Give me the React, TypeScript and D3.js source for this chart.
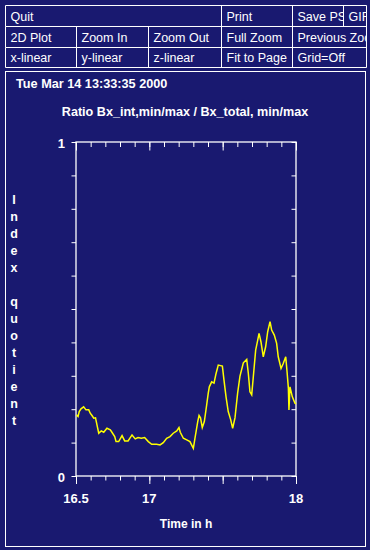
import { useRef, useEffect } from "react"
import * as d3 from "d3"

// ratio series: [time in h, index quotient]
const times = [
  16.503, 16.514, 16.522, 16.534, 16.552, 16.568, 16.587, 16.597, 16.609, 16.621,
  16.633, 16.643, 16.655, 16.672, 16.689, 16.711, 16.734, 16.745, 16.764, 16.773,
  16.791, 16.814, 16.832, 16.855, 16.882, 16.904, 16.923, 16.945, 16.968, 16.993,
  17.016, 17.05, 17.073, 17.095, 17.118, 17.141, 17.163, 17.187, 17.202, 17.211,
  17.232, 17.255, 17.277, 17.3, 17.311, 17.33, 17.339, 17.349, 17.361, 17.375,
  17.391, 17.402, 17.409, 17.425, 17.441, 17.455, 17.47, 17.498, 17.509, 17.523,
  17.538, 17.555, 17.568, 17.584, 17.602, 17.618, 17.641, 17.664, 17.675, 17.686,
  17.698, 17.709, 17.725, 17.739, 17.748, 17.761, 17.777, 17.793, 17.807, 17.823,
  17.834, 17.852, 17.868, 17.879, 17.898, 17.913, 17.93, 17.939, 17.948, 17.952,
  17.959, 17.975, 17.993, 18.0,
]
const ratios = [
  0.183, 0.178, 0.193, 0.201, 0.207, 0.198, 0.198, 0.188, 0.181, 0.173,
  0.174, 0.153, 0.128, 0.135, 0.131, 0.143, 0.138, 0.131, 0.118, 0.103,
  0.103, 0.121, 0.105, 0.105, 0.123, 0.111, 0.115, 0.113, 0.115, 0.103,
  0.095, 0.095, 0.093, 0.1, 0.113, 0.118, 0.128, 0.135, 0.145, 0.131,
  0.113, 0.108, 0.103, 0.083, 0.113, 0.163, 0.181, 0.174, 0.145, 0.163,
  0.213, 0.249, 0.267, 0.282, 0.278, 0.307, 0.332, 0.329, 0.287, 0.237,
  0.193, 0.168, 0.143, 0.174, 0.248, 0.299, 0.339, 0.349, 0.307, 0.252,
  0.243, 0.297, 0.377, 0.407, 0.427, 0.402, 0.357, 0.387, 0.432, 0.462,
  0.437, 0.422, 0.397, 0.357, 0.322, 0.337, 0.357, 0.312, 0.263, 0.198,
  0.267, 0.237, 0.218, 0.216,
]

const xTickLabels = [16.5, 17, 18]
const yTickLabels = [0, 1]

const menuRow1 = ["Quit", "Print", "Save PS", "GIF"]
const menuRow2 = ["2D Plot", "Zoom In", "Zoom Out", "Full Zoom", "Previous Zoom"]
const menuRow3 = ["x-linear", "y-linear", "z-linear", "Fit to Page", "Grid=Off"]

const dateText = "Tue Mar 14 13:33:35 2000"
const titleText = "Ratio Bx_int,min/max / Bx_total, min/max"
const xTitle = "Time in h"
const yTitle = "Index quotient"

const BG = "#191970"
const FONT = "'Liberation Sans', Arial, Helvetica, sans-serif"

const App = () => {
  const svgRef = useRef(null)

  useEffect(() => {
    const svg = d3.select(svgRef.current)
    svg.selectAll("*").remove()

    svg.append("rect").attr("width", 370).attr("height", 550).attr("fill", BG)

    // menu bar
    const menu = svg.append("g").attr("font-family", FONT).attr("font-size", 12.5).attr("fill", "#fff")
    const rowsY = [5.5, 26.5, 47.5, 67.5]
    const cols1 = [5.5, 221.5, 292.5, 343.5, 366.5]
    const cols2 = [5.5, 76.5, 148.5, 221.5, 292.5, 366.5]
    const rows = [
      { labels: menuRow1, cols: cols1 },
      { labels: menuRow2, cols: cols2 },
      { labels: menuRow3, cols: cols2 },
    ]
    const defs = svg.append("defs")
    rows.forEach((row, r) => {
      row.labels.forEach((lab, c) => {
        const x0 = row.cols[c]
        const x1 = row.cols[c + 1]
        const id = `clip-${r}-${c}`
        defs.append("clipPath").attr("id", id)
          .append("rect").attr("x", x0).attr("y", rowsY[r]).attr("width", x1 - x0).attr("height", rowsY[r + 1] - rowsY[r])
        menu.append("text")
          .attr("clip-path", `url(#${id})`)
          .attr("x", x0 + 5)
          .attr("y", rowsY[r + 1] - 6)
          .text(lab)
        menu.append("line")
          .attr("x1", x0).attr("x2", x0)
          .attr("y1", rowsY[r]).attr("y2", rowsY[r + 1])
          .attr("stroke", "#fff")
      })
    })
    rowsY.forEach((y) => {
      menu.append("line").attr("x1", 5.5).attr("x2", 366.5).attr("y1", y).attr("y2", y).attr("stroke", "#fff")
    })
    menu.append("line").attr("x1", 366.5).attr("x2", 366.5).attr("y1", 5.5).attr("y2", 67.5).attr("stroke", "#fff")

    // main panel
    svg.append("rect")
      .attr("x", 5.5).attr("y", 71.5).attr("width", 360).attr("height", 475)
      .attr("fill", "none").attr("stroke", "#fff")

    const bold = svg.append("g").attr("font-family", FONT).attr("font-weight", "bold").attr("fill", "#fff")

    bold.append("text").attr("x", 16).attr("y", 87.5).attr("font-size", 12.7).text(dateText)
    bold.append("text").attr("x", 185).attr("y", 116).attr("font-size", 12.6).attr("text-anchor", "middle").text(titleText)

    // plot
    const margin = { top: 142, left: 76 }
    const width = 220
    const height = 334
    const x = d3.scaleLinear().domain([16.5, 18]).range([margin.left, margin.left + width])
    const y = d3.scaleLinear().domain([0, 1]).range([margin.top + height, margin.top])

    const minorX = d3.range(0, 16).map((i) => 16.5 + i * 0.1)
    const majorX = [16.5, 17, 17.5, 18]
    const ticksY = d3.range(0, 11).map((i) => i * 0.1)

    const styleAxis = (g) => {
      g.select(".domain").remove()
      g.selectAll("line").attr("stroke", "#fff")
      g.selectAll("text").remove()
    }

    // bottom: outward ticks
    svg.append("g").attr("transform", `translate(0,${margin.top + height})`)
      .call(d3.axisBottom(x).tickValues(minorX).tickSize(4.5).tickSizeOuter(0)).call(styleAxis)
    svg.append("g").attr("transform", `translate(0,${margin.top + height})`)
      .call(d3.axisBottom(x).tickValues(majorX).tickSize(8).tickSizeOuter(0)).call(styleAxis)
    // top: inward ticks
    svg.append("g").attr("transform", `translate(0,${margin.top})`)
      .call(d3.axisBottom(x).tickValues(minorX).tickSize(5).tickSizeOuter(0)).call(styleAxis)
    svg.append("g").attr("transform", `translate(0,${margin.top})`)
      .call(d3.axisBottom(x).tickValues(majorX).tickSize(8.5).tickSizeOuter(0)).call(styleAxis)
    // left: outward, right: inward
    svg.append("g").attr("transform", `translate(${margin.left},0)`)
      .call(d3.axisLeft(y).tickValues(ticksY).tickSize(4.5).tickSizeOuter(0)).call(styleAxis)
    svg.append("g").attr("transform", `translate(${margin.left + width},0)`)
      .call(d3.axisLeft(y).tickValues(ticksY).tickSize(4.5).tickSizeOuter(0)).call(styleAxis)

    svg.append("rect")
      .attr("x", margin.left).attr("y", margin.top).attr("width", width).attr("height", height)
      .attr("fill", "none").attr("stroke", "#fff").attr("stroke-width", 1.3)

    // tick labels
    xTickLabels.forEach((v) => {
      bold.append("text").attr("x", x(v)).attr("y", 502.5).attr("font-size", 13)
        .attr("text-anchor", "middle").text(v)
    })
    yTickLabels.forEach((v) => {
      bold.append("text").attr("x", 65).attr("y", y(v) + 5.5).attr("font-size", 13)
        .attr("text-anchor", "end").text(v)
    })

    bold.append("text").attr("x", 186).attr("y", 527.5).attr("font-size", 12)
      .attr("text-anchor", "middle").text(xTitle)

    yTitle.split("").forEach((ch, i) => {
      bold.append("text").attr("x", 14).attr("y", 203.5 + i * 17.04).attr("font-size", 12.5)
        .attr("text-anchor", "middle").text(ch)
    })

    // data line
    const data = times.map((t, i) => [t, ratios[i]])
    svg.append("path")
      .datum(data)
      .attr("fill", "none")
      .attr("stroke", "#ffff00")
      .attr("stroke-width", 1.5)
      .attr("d", d3.line().x((d) => x(d[0])).y((d) => y(d[1])))
  }, [])

  return (
    <div style={{ position: "fixed", left: 0, top: 0, width: 370, height: 550, background: BG }}>
      <svg ref={svgRef} width={370} height={550} style={{ display: "block" }}></svg>
    </div>
  )
}

export default App
